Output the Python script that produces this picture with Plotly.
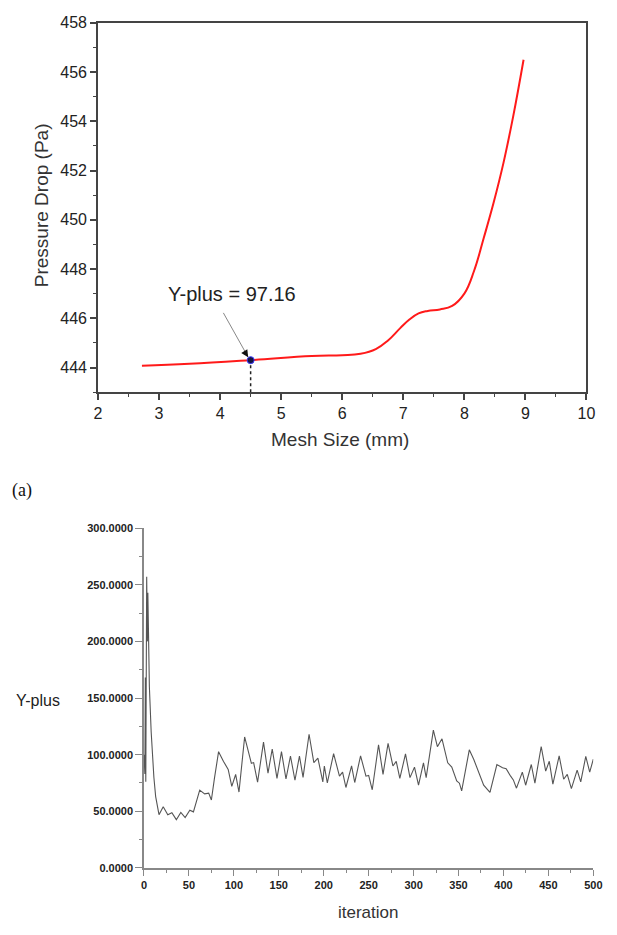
import plotly.graph_objects as go

# ---- Top chart data: pressure drop vs mesh size ----
mesh_size = [2.72, 3.5, 4.5, 5.5, 6.0, 6.3, 6.55, 6.75, 6.95, 7.1, 7.25, 7.4, 7.6, 7.8, 8.0,
             8.16, 8.32, 8.48, 8.64, 8.8, 8.97]
pressure_drop = [444.07, 444.15, 444.3, 444.47, 444.5, 444.56, 444.75, 445.1, 445.6, 445.95,
                 446.2, 446.3, 446.36, 446.5, 447.0, 447.93, 449.28, 450.7, 452.3, 454.2, 456.5]
sel_mesh = [4.5]
sel_pd = [444.3]
y_base = 443.0
label_text = "Y-plus = 97.16"
label_pos = [4.2, 447.0]
arrow_tail = [4.04, 446.28]

# ---- Bottom chart data: Y-plus vs iteration ----
iteration = [0, 1, 1.5, 2, 3, 3.8, 4.3, 5, 6, 8, 9.5, 11, 13, 16.7, 21.4, 26.5, 31, 36, 41, 45.8,
             51, 55, 62, 67.5, 72, 75, 78.4, 83, 88.5, 93.7, 97.7, 102, 105.7, 112, 119.5, 122,
             126.4, 133, 138, 142.7, 148, 153, 158, 163, 168, 173, 177, 183.7, 189, 193.5, 199,
             200.7, 204, 211, 217.5, 221, 224.7, 231, 234.5, 241, 247, 250, 254, 261, 266, 271.6,
             277, 280.7, 284.7, 291, 296, 301, 305.5, 311, 314, 322, 326.5, 331.6, 338, 342.5,
             348, 351, 353.5, 362, 367, 373, 378, 385, 392.7, 399, 403, 408, 411, 414.5, 421,
             424.7, 431, 435, 442, 447, 451, 455, 462, 467, 471, 475.6, 482, 486, 491.6, 496, 500]
y_plus = [100, 83, 168, 76, 257, 200, 243, 218, 160, 120, 98, 80, 63, 47, 54, 47, 48.7, 42.6, 49, 44.5,
          51, 49.5, 68.7, 65.4, 66, 60, 79, 102.6, 94, 87, 72, 82.5, 67, 115.6, 92.4, 93,
          75.8, 111, 83.7, 105, 79, 102.6, 78.5, 98.8, 77.4, 98.8, 80, 118, 93, 97, 76,
          90, 75, 101, 81, 84.6, 71, 90, 75.4, 99, 81, 81.7, 69, 108.7, 82.6, 110,
          90, 94, 79, 100.6, 79.7, 89, 73, 92.8, 79.7, 121.7, 107, 114, 92.8, 89,
          76.8, 74.8, 68, 104.3, 95.7, 84, 73, 66.7, 91.3, 88.4, 87.5, 81, 77.7, 70.4, 84.6,
          73, 91.3, 74.8, 107.2, 85.5, 94.2, 74, 99, 78.3, 82.6, 70, 86.4, 76, 98.5, 84.6, 96]

W, H = 617, 935
def px(x):
    return x / W
def py(y):
    return 1 - y / H

SANS = "Liberation Sans, Arial, sans-serif"

fig = go.Figure()

# top: red curve
fig.add_trace(go.Scatter(x=mesh_size, y=pressure_drop, mode="lines",
                         line=dict(color="#ff1a1a", width=2, shape="spline", smoothing=1.2),
                         xaxis="x", yaxis="y", showlegend=False))
# dotted drop line
fig.add_trace(go.Scatter(x=[sel_mesh[0], sel_mesh[0]], y=[y_base, sel_pd[0]], mode="lines",
                         line=dict(color="#222", width=1.5, dash="dot"),
                         xaxis="x", yaxis="y", showlegend=False))
# selected point
fig.add_trace(go.Scatter(x=sel_mesh, y=sel_pd, mode="markers",
                         marker=dict(color="#141440", size=7, line=dict(color="#3a3aff", width=1)),
                         xaxis="x", yaxis="y", showlegend=False))

# bottom: y-plus history
fig.add_trace(go.Scatter(x=iteration, y=y_plus, mode="lines",
                         line=dict(color="#555555", width=1.1),
                         xaxis="x2", yaxis="y2", showlegend=False))

axis_font = dict(family=SANS, size=16, color="#222")
small_bold = dict(family=SANS, size=11, color="#222", weight="bold")

fig.update_layout(
    width=W, height=H, margin=dict(l=0, r=0, t=0, b=0),
    paper_bgcolor="white", plot_bgcolor="white",
    xaxis=dict(domain=[px(96), px(595)], range=[2, 10], anchor="y",
               tickmode="linear", tick0=2, dtick=1, ticks="outside", ticklen=6, tickwidth=1.5,
               tickcolor="#444", showline=True, linecolor="#444", linewidth=1.5, mirror=True,
               showgrid=False, zeroline=False, tickfont=axis_font,
               minor=dict(dtick=0.5, ticks="outside", ticklen=3, tickwidth=1.2, tickcolor="#444")),
    yaxis=dict(domain=[py(390), py(15)], range=[443, 458], anchor="x",
               tickmode="linear", tick0=444, dtick=2, ticks="outside", ticklen=6, tickwidth=1.5,
               tickcolor="#444", showline=True, linecolor="#444", linewidth=1.5, mirror=True,
               showgrid=False, zeroline=False, tickfont=axis_font,
               minor=dict(dtick=1, ticks="outside", ticklen=3, tickwidth=1.2, tickcolor="#444")),
    xaxis2=dict(domain=[px(143), px(602)], range=[0, 500], anchor="y2",
                tickmode="linear", tick0=0, dtick=50, ticks="outside", ticklen=6, tickwidth=1.2,
                tickcolor="#888", showline=True, linecolor="#888", linewidth=1.5,
                showgrid=False, zeroline=False, tickfont=small_bold,
                minor=dict(dtick=25, ticks="outside", ticklen=3, tickwidth=1, tickcolor="#888")),
    yaxis2=dict(domain=[py(873), py(528)], range=[0, 300], anchor="x2",
                tickmode="linear", tick0=0, dtick=50, ticks="outside", ticklen=7, tickwidth=1.2,
                tickcolor="#888", showline=True, linecolor="#888", linewidth=1.5,
                showgrid=False, zeroline=False, tickfont=small_bold, tickformat=".4f",
                minor=dict(dtick=25, ticks="outside", ticklen=3, tickwidth=1, tickcolor="#888")),
)

title_font = dict(family=SANS, size=19, color="#333")
anns = [
    dict(text="Pressure Drop (Pa)", x=px(38), y=py(200), xref="paper", yref="paper",
         textangle=-90, showarrow=False, font=title_font, xanchor="center", yanchor="middle"),
    dict(text="Mesh Size (mm)", x=px(343), y=py(438), xref="paper", yref="paper",
         showarrow=False, font=title_font, xanchor="center", yanchor="middle"),
    dict(text="Y-plus", x=px(35), y=py(703), xref="paper", yref="paper",
         showarrow=False, font=dict(family=SANS, size=16, color="#222"),
         xanchor="center", yanchor="middle"),
    dict(text="iteration", x=px(372), y=py(918), xref="paper", yref="paper",
         showarrow=False, font=dict(family=SANS, size=17, color="#333"),
         xanchor="center", yanchor="middle"),
    dict(text="(a)", x=px(18), y=py(490), xref="paper", yref="paper",
         showarrow=False, font=dict(family="Liberation Serif, Times New Roman, serif", size=18, color="#111"),
         xanchor="center", yanchor="middle"),
    # label text
    dict(text=label_text, x=label_pos[0], y=label_pos[1], xref="x", yref="y",
         showarrow=False, font=dict(family=SANS, size=20, color="#222"),
         xanchor="center", yanchor="middle"),
    # gray arrow shaft
    dict(text="", x=sel_mesh[0] - 0.04, y=sel_pd[0] + 0.12, xref="x", yref="y",
         ax=arrow_tail[0], ay=arrow_tail[1], axref="x", ayref="y",
         showarrow=True, arrowhead=0, arrowwidth=1, arrowcolor="#888"),
    # black arrowhead
    dict(text="", x=sel_mesh[0] - 0.04, y=sel_pd[0] + 0.12, xref="x", yref="y",
         ax=sel_mesh[0] - 0.1, ay=sel_pd[0] + 0.35, axref="x", ayref="y",
         showarrow=True, arrowhead=2, arrowsize=1.2, arrowwidth=1.2, arrowcolor="#111"),
]
fig.update_layout(annotations=anns)

fig.write_html("out.html")
